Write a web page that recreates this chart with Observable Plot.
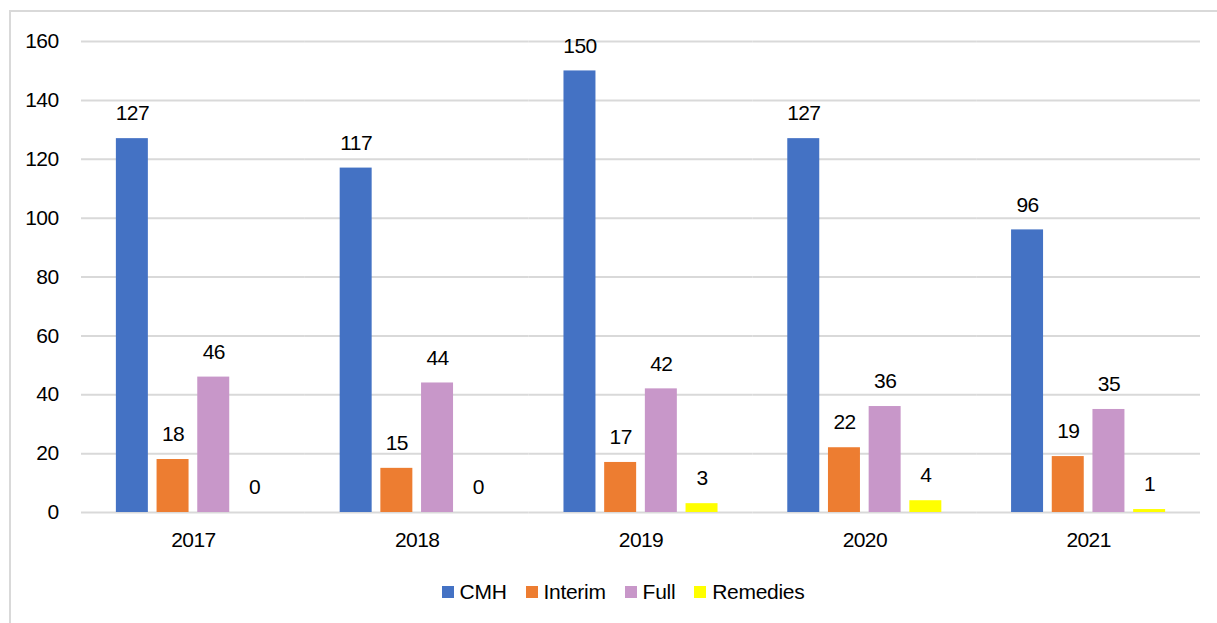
<!DOCTYPE html>
<html>
<head>
<meta charset="utf-8">
<script src="https://cdn.jsdelivr.net/npm/d3@7"></script>
<script src="https://cdn.jsdelivr.net/npm/@observablehq/plot@0.6"></script>
<style>
  html, body { margin: 0; padding: 0; background: #fff; width: 1217px; height: 623px; overflow: hidden; }
  #frame { position: absolute; left: 9px; top: 10px; width: 1220px; height: 620px;
           border-left: 2px solid #d9d9d9; border-top: 2px solid #d9d9d9; }
  #chart { position: absolute; left: 0; top: 0; }
  #chart svg text { letter-spacing: -0.6px; }
  #legend { position: absolute; top: 568px; left: 0; width: 1206px; display: flex; justify-content: center;
            font-family: "Liberation Sans", Arial, sans-serif; font-size: 21px; letter-spacing: -0.3px; color: #000; padding-left: 18px; box-sizing: border-box; }
  #legend .item { display: flex; align-items: center; margin: 0 9.5px; }
  #legend .sw { width: 12px; height: 12px; margin-right: 6px; }
</style>
</head>
<body>
<div id="frame"><div id="chart"></div><div id="legend"></div></div>
<script>
const years = ["2017", "2018", "2019", "2020", "2021"];
const seriesNames = ["CMH", "Interim", "Full", "Remedies"];
const cmh = [127, 117, 150, 127, 96];
const interim = [18, 15, 17, 22, 19];
const full = [46, 44, 42, 36, 35];
const remedies = [0, 0, 3, 4, 1];
const colors = ["#4472C4", "#ED7D31", "#C897C9", "#FFFF00"];
const yTicks = [0, 20, 40, 60, 80, 100, 120, 140, 160];

const seriesValues = [cmh, interim, full, remedies];
const data = [];
years.forEach((y, i) => {
  seriesNames.forEach((s, j) => data.push({year: y, series: s, value: seriesValues[j][i]}));
});

const font = '"Liberation Sans", Arial, sans-serif';

const chart = Plot.plot({
  width: 1206,
  height: 560,
  marginLeft: 70,
  marginRight: 17,
  marginTop: 29,
  marginBottom: 60,
  style: {fontFamily: font, fontSize: "21px", color: "#000", background: "transparent"},
  fx: {domain: years, padding: 0, round: false, label: null, axis: null},
  x: {domain: seriesNames, paddingInner: 0.214, paddingOuter: 0.857, round: false, axis: null},
  y: {domain: [0, 160], ticks: yTicks, label: null, axis: null},
  color: {domain: seriesNames, range: colors},
  marks: [
    Plot.gridY(yTicks, {stroke: "#d9d9d9", strokeOpacity: 1, strokeWidth: 2}),
    Plot.axisY(yTicks, {tickSize: 0, tickPadding: 23, label: null, fontSize: 21, facetAnchor: "left"}),
    Plot.axisFx({tickSize: 0, tickPadding: 20, label: null, fontSize: 21, anchor: "bottom"}),
    Plot.barY(data, {fx: "year", x: "series", y: "value", fill: "series"}),
    Plot.text(data, {fx: "year", x: "series", y: "value", text: d => String(d.value), dy: -25, fontSize: 21, fill: "#000"})
  ]
});
document.getElementById("chart").appendChild(chart);

const legend = document.getElementById("legend");
seriesNames.forEach((s, i) => {
  const item = document.createElement("div");
  item.className = "item";
  const sw = document.createElement("div");
  sw.className = "sw";
  sw.style.background = colors[i];
  const t = document.createElement("span");
  t.textContent = s;
  item.appendChild(sw); item.appendChild(t);
  legend.appendChild(item);
});
</script>
</body>
</html>
